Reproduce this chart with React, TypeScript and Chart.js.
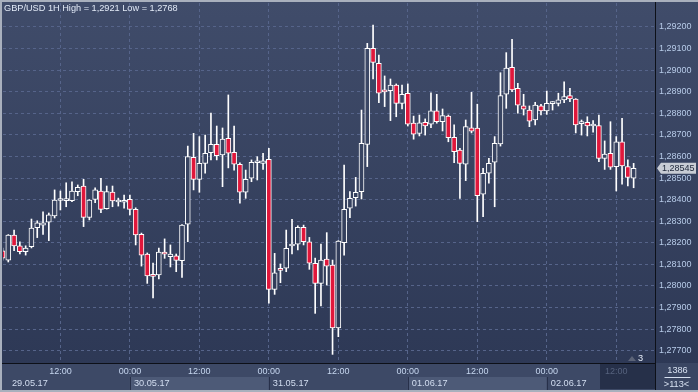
import React, { useEffect, useRef } from 'react';
import { Chart, registerables } from 'chart.js';

Chart.register(...registerables);

const TITLE = 'GBP/USD 1H High = 1,2921 Low = 1,2768';
const FIRST_BAR_HOUR = 2; // hours after 29.05.17 00:00
const DAY_LABELS = ['29.05.17', '30.05.17', '31.05.17', '01.06.17', '02.06.17'];
const TIME_LABELS = ['00:00', '12:00'];
const BARS_TOTAL = '1386';
const BARS_VISIBLE = '>113<';
const SHIFT_MARK = '3';

const OPEN = [
  1.28163, 1.2812, 1.28236, 1.28186, 1.28159, 1.28182, 1.2827, 1.28282, 1.28295, 1.28324,
  1.28396, 1.28395, 1.28395, 1.28437, 1.28463, 1.28318, 1.28401, 1.2844, 1.28358, 1.28435,
  1.28389, 1.28388, 1.28401, 1.28355, 1.28239, 1.28148, 1.28048, 1.28051, 1.28157, 1.28136,
  1.28139, 1.28117, 1.28286, 1.28596, 1.28494, 1.28568, 1.28617, 1.28656, 1.28607, 1.28684,
  1.28619, 1.28564, 1.28434, 1.28499, 1.28571, 1.28568, 1.28587, 1.27984, 1.28075, 1.28082,
  1.28185, 1.28193, 1.28272, 1.28205, 1.28105, 1.28012, 1.28125, 1.28097, 1.27806, 1.282,
  1.2836, 1.28409, 1.28437, 1.28656, 1.29101, 1.29032, 1.28902, 1.28905, 1.28931, 1.28846,
  1.28893, 1.28755, 1.28707, 1.28758, 1.28749, 1.28811, 1.28761, 1.28787, 1.28689, 1.2863,
  1.28564, 1.28733, 1.28732, 1.28425, 1.28522, 1.28573, 1.28658, 1.28888, 1.29013, 1.28916,
  1.28835, 1.28815, 1.28769, 1.28834, 1.28811, 1.28845, 1.28846, 1.28862, 1.28882, 1.28866,
  1.28752, 1.28758, 1.28741, 1.28743, 1.28591, 1.28615, 1.28553, 1.28668, 1.28553, 1.28499,
];
const HIGH = [
  1.28176, 1.28238, 1.28259, 1.28204, 1.28186, 1.2831, 1.28302, 1.28343, 1.28338, 1.28445,
  1.2844, 1.28478, 1.28483, 1.28468, 1.28494, 1.284, 1.28455, 1.28499, 1.28463, 1.28463,
  1.28407, 1.28421, 1.28421, 1.28362, 1.28245, 1.28153, 1.28106, 1.28176, 1.28218, 1.2819,
  1.28148, 1.28284, 1.28648, 1.28707, 1.28692, 1.28699, 1.28801, 1.28741, 1.28732, 1.28885,
  1.28741, 1.2857, 1.28537, 1.28584, 1.28599, 1.28615, 1.28638, 1.28151, 1.28102, 1.28259,
  1.28309, 1.28279, 1.28282, 1.28225, 1.28129, 1.28194, 1.28247, 1.2812, 1.2821, 1.2856,
  1.28437, 1.28503, 1.28815, 1.29124, 1.29209, 1.2907, 1.28973, 1.28959, 1.28936, 1.28931,
  1.28936, 1.28787, 1.28792, 1.28774, 1.28895, 1.28888, 1.2882, 1.28792, 1.28746, 1.28638,
  1.28769, 1.28897, 1.28842, 1.28545, 1.28591, 1.28692, 1.28988, 1.29081, 1.29143, 1.28939,
  1.28888, 1.28834, 1.28851, 1.28842, 1.28903, 1.28854, 1.28893, 1.28946, 1.28916, 1.28868,
  1.28769, 1.28784, 1.28766, 1.28792, 1.28672, 1.28761, 1.28692, 1.28777, 1.28584, 1.28568,
];
const LOW = [
  1.2812, 1.28111, 1.28163, 1.28148, 1.28143, 1.28176, 1.28224, 1.28239, 1.2821, 1.28315,
  1.28352, 1.28367, 1.2839, 1.28418, 1.28275, 1.28306, 1.28386, 1.28339, 1.28356, 1.28367,
  1.2837, 1.2836, 1.28329, 1.2819, 1.28092, 1.28012, 1.27944, 1.28032, 1.28128, 1.28088,
  1.28066, 1.2804, 1.28205, 1.28445, 1.28434, 1.28522, 1.28584, 1.28584, 1.2846, 1.28547,
  1.28537, 1.28383, 1.28406, 1.28483, 1.28491, 1.2854, 1.2792, 1.27961, 1.28015, 1.28066,
  1.28148, 1.28167, 1.2819, 1.28077, 1.27873, 1.27908, 1.28004, 1.27683, 1.27765, 1.28143,
  1.28316, 1.2837, 1.28403, 1.28553, 1.28959, 1.28849, 1.28831, 1.28766, 1.28784, 1.2882,
  1.28741, 1.2868, 1.28695, 1.28699, 1.28733, 1.28754, 1.28718, 1.28668, 1.28571, 1.28406,
  1.28488, 1.28709, 1.28298, 1.28321, 1.28476, 1.28367, 1.28648, 1.28823, 1.289, 1.288,
  1.28792, 1.28738, 1.28746, 1.28792, 1.28795, 1.28815, 1.28834, 1.28849, 1.28854, 1.28709,
  1.28699, 1.28695, 1.28713, 1.28576, 1.2854, 1.2854, 1.2844, 1.28471, 1.28463, 1.28455,
];
const CLOSE = [
  1.28129, 1.28236, 1.28186, 1.28159, 1.28176, 1.28268, 1.28292, 1.28292, 1.28329, 1.28398,
  1.284, 1.28403, 1.2844, 1.28457, 1.28318, 1.28398, 1.28445, 1.28355, 1.28437, 1.28394,
  1.28393, 1.28395, 1.28355, 1.28236, 1.28143, 1.28046, 1.28044, 1.28157, 1.28147, 1.28148,
  1.28118, 1.28282, 1.28599, 1.28494, 1.28568, 1.28615, 1.28656, 1.28604, 1.2868, 1.28615,
  1.28564, 1.28434, 1.28494, 1.28573, 1.28574, 1.2858, 1.27984, 1.28061, 1.28072, 1.28174,
  1.28188, 1.28272, 1.28205, 1.28105, 1.28012, 1.2812, 1.28092, 1.27806, 1.28208, 1.28355,
  1.28406, 1.28434, 1.28661, 1.29101, 1.29036, 1.28893, 1.28899, 1.28931, 1.28846, 1.28888,
  1.2875, 1.28703, 1.28756, 1.28741, 1.28811, 1.28761, 1.28789, 1.28687, 1.28622, 1.28568,
  1.28738, 1.28717, 1.28418, 1.28522, 1.28568, 1.28661, 1.28882, 1.29009, 1.28908, 1.28838,
  1.28819, 1.28764, 1.28838, 1.28811, 1.28846, 1.28848, 1.28862, 1.28877, 1.28866, 1.28746,
  1.28755, 1.28741, 1.28744, 1.28591, 1.28611, 1.2855, 1.28668, 1.28556, 1.28503, 1.28545,
];

const Y_MIN = 1.27643;
const Y_MAX = 1.29311;
const Y_STEP = 0.001;
const X_MIN = 2.086;
const X_MAX = 114.69;

const FONT = '"Liberation Sans", Arial, sans-serif';
const fmtPrice = (v: number) => v.toFixed(5).replace('.', ',');

export default function App() {
  const ref = useRef<HTMLCanvasElement | null>(null);

  useEffect(() => {
    const canvas = ref.current;
    if (!canvas) return;
    const ctx0 = canvas.getContext('2d')!;
    const bg = ctx0.createLinearGradient(0, 0, 0, 392);
    bg.addColorStop(0, '#404c6a');
    bg.addColorStop(1, '#2c3754');

    const bodyData = OPEN.map((o, i) => ({ x: FIRST_BAR_HOUR + i, y: [o, CLOSE[i]] }));
    const wickData = OPEN.map((_, i) => ({ x: FIRST_BAR_HOUR + i, y: [LOW[i], HIGH[i]] }));
    const bodyColors = OPEN.map((o, i) => (CLOSE[i] < o ? '#e0173b' : bg));

    const decor = {
      id: 'decor',
      beforeDraw(chart: any) {
        const { ctx, width, height, chartArea: ca } = chart;
        const xs = chart.scales.x;
        ctx.save();
        ctx.fillStyle = '#a9b0bd';
        ctx.fillRect(0, 0, width, height);
        ctx.fillStyle = bg;
        ctx.fillRect(2, 2, width - 2, ca.bottom - 2);
        // time band
        const bandBottom = height - 2;
        ctx.fillStyle = '#3d4966';
        ctx.fillRect(2, ca.bottom, width - 2, bandBottom - ca.bottom);
        const rowTop = ca.bottom + 14;
        DAY_LABELS.forEach((_, d) => {
          const a = Math.max(xs.getPixelForValue(d * 24), 2);
          const b = Math.min(xs.getPixelForValue((d + 1) * 24), ca.right);
          if (b <= a) return;
          ctx.fillStyle = d % 2 ? '#4d5a77' : '#3d4966';
          ctx.fillRect(a, rowTop, b - a, bandBottom - rowTop);
          if (d > 0) {
            ctx.fillStyle = '#27304a';
            ctx.fillRect(Math.round(a), rowTop, 1, bandBottom - rowTop);
          }
        });
        // scroll region
        const sx = ca.right - 55;
        ctx.fillStyle = '#263049';
        ctx.fillRect(sx, ca.bottom + 1, ca.right - sx, bandBottom - ca.bottom - 2);
        // right-bottom corner
        ctx.fillStyle = '#3a4663';
        ctx.fillRect(ca.right, ca.bottom, width - ca.right, bandBottom - ca.bottom);
        ctx.restore();
      },
      afterDraw(chart: any) {
        const { ctx, width, height, chartArea: ca } = chart;
        const xs = chart.scales.x;
        const ys = chart.scales.y;
        ctx.save();
        // separators
        ctx.fillStyle = '#0d1018';
        ctx.fillRect(2, ca.bottom, ca.right - 2, 1);
        ctx.fillRect(ca.right, 2, 1, height - 4);
        // title
        ctx.font = `9.2px ${FONT}`;
        ctx.textBaseline = 'middle';
        ctx.textAlign = 'left';
        ctx.fillStyle = '#e2eaf7';
        ctx.fillText(TITLE, 4, 8.5);
        // date labels
        ctx.font = `9.2px ${FONT}`;
        ctx.fillStyle = '#d3def1';
        DAY_LABELS.forEach((lab, d) => {
          const a = xs.getPixelForValue(d * 24);
          const x = d === 0 ? ca.left + 9 : a + 4;
          if (x > ca.right - 30) return;
          ctx.fillText(lab, x, ca.bottom + 20.5);
        });
        // bar counters
        const cx = (ca.right + width) / 2 + 1;
        ctx.textAlign = 'center';
        ctx.fillStyle = '#d6e0f0';
        ctx.fillText(BARS_TOTAL, cx, ca.bottom + 7.5);
        ctx.fillRect(cx - 13, ca.bottom + 14, 26, 1);
        ctx.fillText(BARS_VISIBLE, cx - 1, ca.bottom + 21);
        // shift marker
        ctx.fillStyle = '#5c6478';
        ctx.beginPath();
        ctx.moveTo(628, ca.bottom - 2);
        ctx.lineTo(632, ca.bottom - 7);
        ctx.lineTo(636, ca.bottom - 2);
        ctx.closePath();
        ctx.fill();
        ctx.fillStyle = '#e8eef8';
        ctx.textAlign = 'left';
        ctx.fillText(SHIFT_MARK, 638, ca.bottom - 4.5);
        // last price tag
        const last = CLOSE[CLOSE.length - 1];
        const py = ys.getPixelForValue(last);
        ctx.fillStyle = '#c8ccd4';
        ctx.beginPath();
        ctx.moveTo(ca.right + 2, py);
        ctx.lineTo(ca.right + 6, py - 5.5);
        ctx.lineTo(width - 2, py - 5.5);
        ctx.lineTo(width - 2, py + 5.5);
        ctx.lineTo(ca.right + 6, py + 5.5);
        ctx.closePath();
        ctx.fill();
        ctx.fillStyle = '#1d2638';
        ctx.font = `9px ${FONT}`;
        ctx.fillText(fmtPrice(last), ca.right + 7, py + 0.5);
        ctx.restore();
      },
    };

    const chart = new Chart(canvas, {
      type: 'bar',
      data: {
        datasets: [
          {
            data: bodyData as any,
            backgroundColor: bodyColors as any,
            borderColor: '#ffffff',
            borderWidth: 1,
            borderSkipped: false,
            barThickness: 5,
            minBarLength: 2,
            grouped: false,
            order: 1,
          } as any,
          {
            data: wickData as any,
            backgroundColor: '#ffffff',
            borderWidth: 0,
            barThickness: 1,
            grouped: false,
            order: 2,
          } as any,
        ],
      },
      options: {
        animation: false,
        responsive: false,
        devicePixelRatio: 1,
        events: [],
        layout: { padding: { left: 3, top: 3, right: 0, bottom: 0 } },
        plugins: { legend: { display: false }, tooltip: { enabled: false } },
        scales: {
          x: {
            type: 'linear',
            position: 'bottom',
            offset: false,
            min: X_MIN,
            max: X_MAX,
            afterFit: (s: any) => {
              s.height = 29;
              s.paddingLeft = 0;
              s.paddingRight = 0;
              s.paddingTop = 0;
              s.paddingBottom = 0;
            },
            afterBuildTicks: (s: any) => {
              s.ticks = s.ticks.filter((t: any) => Math.abs(t.value % 12) < 1e-9);
            },
            ticks: {
              stepSize: 12,
              includeBounds: false,
              autoSkip: false,
              maxRotation: 0,
              padding: 3,
              font: { family: FONT, size: 9 },
              color: (c: any) => (c.tick && c.tick.value === 108 ? '#56627d' : '#c6d6ef'),
              callback: (v: any) => (Number(v) % 24 === 0 ? TIME_LABELS[0] : TIME_LABELS[1]),
            },
            grid: { color: '#56648a', drawTicks: false, lineWidth: 1, offset: false },
            border: { display: false, dash: [3, 3] },
          },
          y: {
            type: 'linear',
            position: 'right',
            min: Y_MIN,
            max: Y_MAX,
            afterFit: (s: any) => {
              s.width = 43;
              s.paddingLeft = 0;
              s.paddingRight = 0;
              s.paddingTop = 0;
              s.paddingBottom = 0;
            },
            afterBuildTicks: (s: any) => {
              s.ticks = s.ticks.filter((t: any) => t.value <= 1.2925);
            },
            ticks: {
              stepSize: Y_STEP,
              includeBounds: false,
              padding: 4,
              crossAlign: 'near',
              font: { family: FONT, size: 9 },
              color: '#b7cbe8',
              callback: (v: any) => fmtPrice(Number(v)),
            },
            grid: { color: '#56648a', drawTicks: false, lineWidth: 1 },
            border: { display: false, dash: [3, 3] },
          },
        },
      },
      plugins: [decor],
    } as any);

    return () => chart.destroy();
  }, []);

  return (
    <div style={{ position: 'fixed', left: 0, top: 0, width: 698, height: 392 }}>
      <canvas ref={ref} width={698} height={392} style={{ display: 'block', width: 698, height: 392 }} />
    </div>
  );
}
